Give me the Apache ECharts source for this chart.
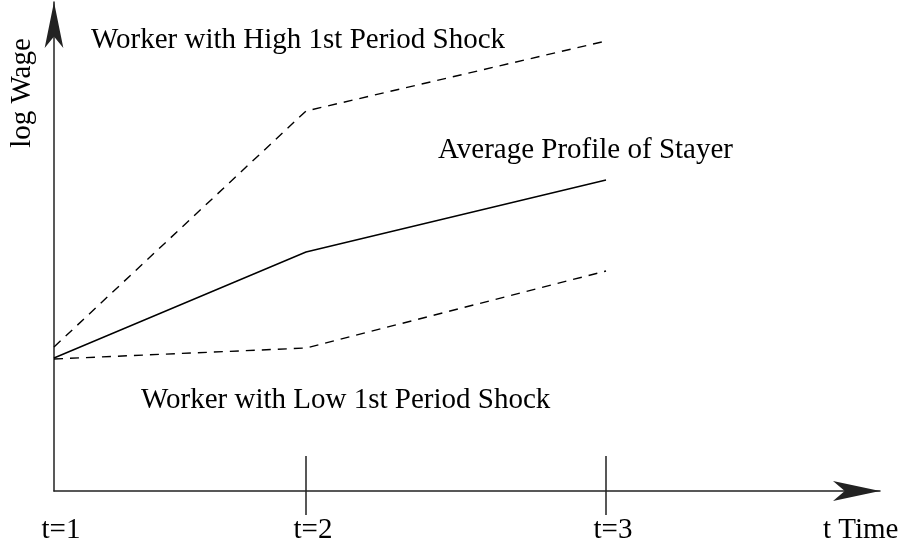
<!DOCTYPE html>
<html>
<head>
<meta charset="utf-8">
<script src="https://cdn.jsdelivr.net/npm/echarts@6/dist/echarts.min.js"></script>
<style>
  html, body { margin: 0; padding: 0; background: #fff; }
  #chart { width: 901px; height: 550px; }
</style>
</head>
<body>
<div id="chart"></div>
<script>
// positions le long de l'axe du temps (unités du dessin) et libellés
const timePos    = [0, 252, 552];
const timeLabels = ['t=1', 't=2', 't=3'];
const tickPos    = [252, 552];

// log salaire
const stayerAvg  = [133, 239, 311];
const highShock  = [144, 380, 450];
const lowShock   = [132, 143, 220];

const FONT = 'Liberation Serif';
const FS = 29;
const AXIS_COL = '#222';

const mkLine = (name, ys, dashed) => ({
  name,
  type: 'line',
  xAxisIndex: 0,
  data: timePos.map((x, i) => [x, ys[i]]),
  showSymbol: false,
  silent: true,
  lineStyle: { color: '#000', width: 1.4, type: dashed ? [9, 7] : 'solid' }
});

const txt = (text, x, y, extra) => Object.assign({
  type: 'text', x, y,
  style: { text, font: FS + 'px ' + FONT, fill: '#000', align: 'left', verticalAlign: 'middle' }
}, extra || {});

const chart = echarts.init(document.getElementById('chart'), null, { renderer: 'canvas' });

chart.setOption({
  backgroundColor: '#fff',
  animation: false,
  grid: { left: 54, right: 21, top: 2, bottom: 59 },
  xAxis: [
    {
      type: 'value', min: 0, max: 826,
      axisLine: {
        show: true, symbol: ['none', 'arrow'], symbolSize: [15, 47],
        lineStyle: { color: AXIS_COL, width: 1.5 }
      },
      axisTick: {
        show: true, inside: true, length: 35, customValues: tickPos,
        lineStyle: { color: AXIS_COL, width: 1.5 }
      },
      axisLabel: { show: false },
      splitLine: { show: false }
    },
    {
      // seconde couche : partie basse des repères + libellés
      type: 'value', min: 0, max: 826, position: 'bottom',
      axisLine: { show: false },
      axisTick: {
        show: true, inside: false, length: 24, customValues: tickPos,
        lineStyle: { color: AXIS_COL, width: 1.5 }
      },
      axisLabel: {
        show: true, customValues: timePos, margin: 25,
        color: '#000', fontFamily: FONT, fontSize: FS,
        padding: [0, 0, 0, 14],
        formatter: function (v) { return timeLabels[timePos.indexOf(v)] || ''; }
      },
      splitLine: { show: false }
    }
  ],
  yAxis: {
    type: 'value', min: 0, max: 489,
    axisLine: {
      show: true, symbol: ['none', 'arrow'], symbolSize: [14, 46],
      lineStyle: { color: AXIS_COL, width: 1.5 }
    },
    axisTick: { show: false },
    axisLabel: { show: false },
    splitLine: { show: false }
  },
  graphic: [
    { type: 'text', x: 22, y: 93, rotation: Math.PI / 2,
      style: { text: 'log Wage', font: FS + 'px ' + FONT, fill: '#000', align: 'center', verticalAlign: 'middle' } },
    txt('t Time', 823, 530),
    txt('Worker with High 1st Period Shock', 91, 40),
    txt('Average Profile of Stayer', 438, 150),
    txt('Worker with Low 1st Period Shock', 141, 400)
  ],
  series: [
    mkLine('Average Profile of Stayer', stayerAvg, false),
    mkLine('Worker with High 1st Period Shock', highShock, true),
    mkLine('Worker with Low 1st Period Shock', lowShock, true)
  ]
});
</script>
</body>
</html>
